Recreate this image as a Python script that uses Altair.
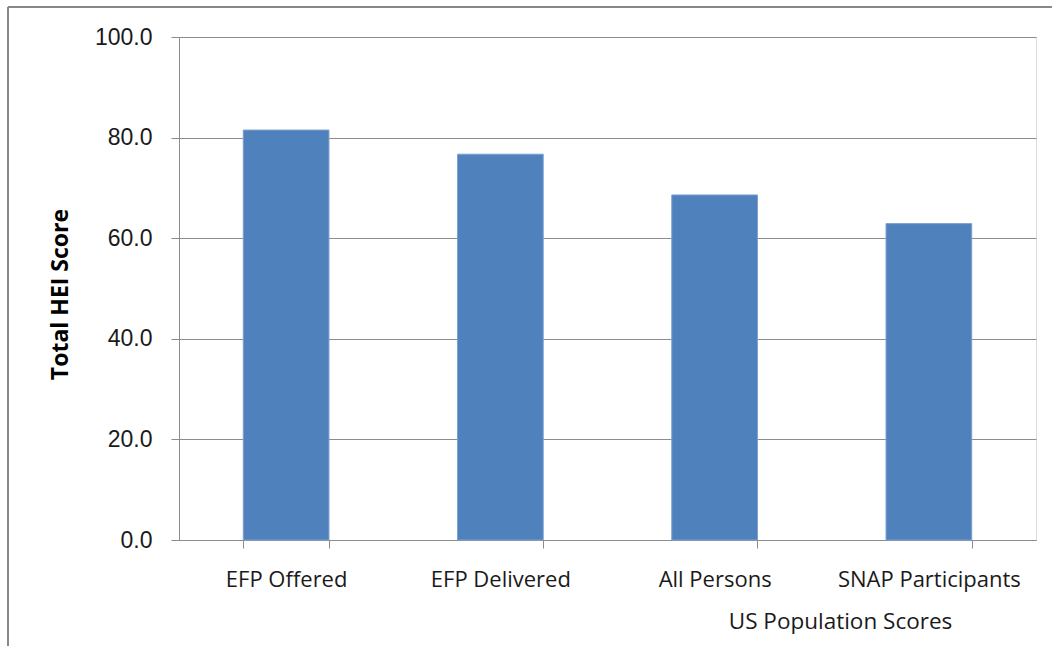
import altair as alt
import pandas as pd

categories = ["EFP Offered", "EFP Delivered", "All Persons", "SNAP Participants"]
scores = [81.5, 76.7, 68.6, 62.9]
y_ticks = [0, 20, 40, 60, 80, 100]

df = pd.DataFrame({"cat": categories, "score": scores})

GRID = "#8c8c8c"
LABEL_FONT = "Open Sans"

bars = alt.Chart(df).mark_bar(
    color="#4F81BD", stroke="#7da1cf", strokeWidth=1
).encode(
    x=alt.X(
        "cat:N",
        sort=categories,
        scale=alt.Scale(paddingInner=0.6, paddingOuter=0.3),
        axis=alt.Axis(
            title="US Population Scores",
            labelAngle=0,
            labelFont=LABEL_FONT,
            labelFontSize=22,
            labelColor="#1a1a1a",
            labelPadding=21,
            labelLimit=400,
            labelOverlap=False,
            tickBand="extent",
            tickSize=8,
            tickColor=GRID,
            domainColor=GRID,
            titleFont=LABEL_FONT,
            titleFontSize=22.5,
            titleFontWeight="normal",
            titleColor="#1a1a1a",
            titleX=661,
            titleY=88,
            titleAlign="center",
            titleBaseline="alphabetic",
        ),
    ),
    y=alt.Y(
        "score:Q",
        scale=alt.Scale(domain=[0, 100], nice=False),
        axis=alt.Axis(
            title="Total HEI Score",
            values=y_ticks,
            format=".1f",
            labelFont="Liberation Sans",
            labelFontSize=23,
            labelColor="#1a1a1a",
            labelPadding=19,
            tickSize=8,
            tickColor=GRID,
            domainColor=GRID,
            gridColor=GRID,
            grid=True,
            titleFont=LABEL_FONT,
            titleFontSize=23,
            titleFontWeight="bold",
            titleColor="#000000",
            titleX=-119,
            titleY=257,
            titleAngle=-90,
            titleAlign="center",
            titleBaseline="middle",
        ),
    ),
)

border_df = pd.DataFrame({"k": [0]})
left_border = alt.Chart(border_df).mark_rule(color="#888888", strokeWidth=2).encode(
    x=alt.value(-171), y=alt.value(-30), y2=alt.value(620)
)
top_border = alt.Chart(border_df).mark_rule(color="#888888", strokeWidth=2).encode(
    x=alt.value(-171), x2=alt.value(880), y=alt.value(-30)
)

chart = alt.layer(bars, left_border, top_border).properties(
    width=857,
    height=503,
    padding={"left": 179, "top": 37, "right": 16, "bottom": 106},
    autosize=alt.AutoSizeParams(type="none"),
).configure_view(stroke=None).configure(background="white")

chart.save("out.html", embed_options={"renderer": "svg", "actions": False})
